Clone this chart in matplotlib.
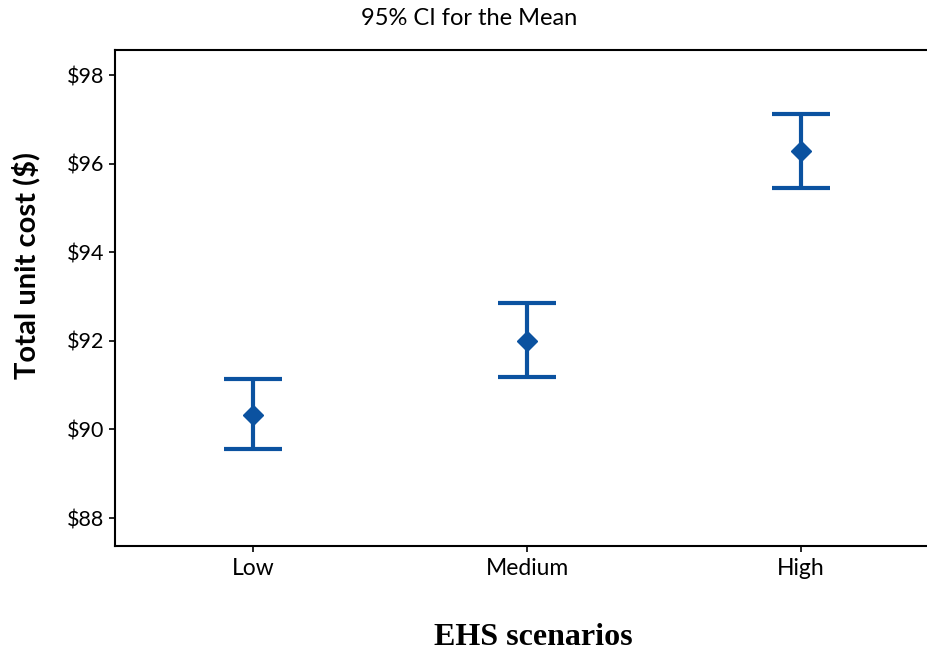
import numpy as np
import matplotlib.pyplot as plt
from matplotlib.ticker import FuncFormatter

scenarios = ['Low', 'Medium', 'High']
means = [90.33, 92.0, 96.28]
upper = [91.14, 92.85, 97.12]
lower = [89.55, 91.19, 95.45]

blue = '#0B52A0'

fig = plt.figure(figsize=(9.28, 6.53), dpi=100)
ax = fig.add_axes([0.124, 0.164, 0.878, 0.759])

x = np.arange(len(scenarios))
m = np.array(means)
err = [m - np.array(lower), np.array(upper) - m]
ax.errorbar(x, m, yerr=err, fmt='D', color=blue, ecolor=blue, elinewidth=3,
            capsize=21, capthick=3, markersize=10)

ax.set_xlim(-0.505, 2.47)
ax.set_ylim(87.37, 98.56)
ax.set_yticks([88, 90, 92, 94, 96, 98])
ax.yaxis.set_major_formatter(FuncFormatter(lambda v, p: '$%d' % v))
ax.set_xticks(x)
ax.set_xticklabels(scenarios)
ax.tick_params(axis='y', labelsize=15.5, length=4, width=1.2)
ax.tick_params(axis='x', labelsize=16.5, length=4, width=1.2, pad=5)
for lab in ax.get_xticklabels() + ax.get_yticklabels():
    lab.set_family('Lato')
for s in ax.spines.values():
    s.set_linewidth(1.5)
ax.spines['right'].set_visible(False)

ax.set_ylabel('Total unit cost ($)', fontsize=21, fontweight='bold', family='Lato')
ax.yaxis.set_label_coords(-0.092, 0.565)
fig.text(0.505, 0.972, '95% CI for the Mean', ha='center', va='center', fontsize=17, family='Lato')
fig.text(0.575, 0.024, 'EHS scenarios', ha='center', va='center', fontsize=23,
         fontweight='bold', family='Liberation Serif')

fig.savefig('out.png', dpi=100)
